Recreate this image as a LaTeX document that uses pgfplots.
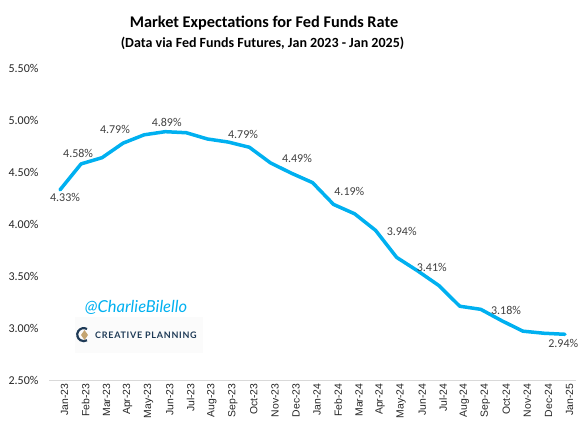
\documentclass[border=0pt]{standalone}
\usepackage{pgfplots}
\pgfplotsset{compat=1.18}
\usepackage{fontspec}
\setmainfont{Carlito}
\newfontfamily\arialfont{Liberation Sans}
\newfontfamily\markfont{Lato}
\newfontfamily\logofont[LetterSpace=8.0]{Lato}
\definecolor{lineblue}{RGB}{0,176,240}
\definecolor{labelgray}{RGB}{64,64,64}
\definecolor{axisgray}{RGB}{217,217,217}
\definecolor{navy}{RGB}{30,58,86}
\definecolor{gold}{RGB}{196,164,112}
\begin{document}
\begin{tikzpicture}[x=1pt,y=1pt]
\path[use as bounding box] (-49.5,-49) rectangle (534.5,380);
\begin{axis}[
  at={(0,0)}, anchor=south west,
  scale only axis, width=526pt, height=311.7pt,
  xmin=-0.5, xmax=24.5, ymin=2.5, ymax=5.5,
  clip=false,
  axis x line=bottom, axis y line=left,
  x axis line style={-, draw=axisgray, line width=0.8pt},
  y axis line style={draw=none},
  major tick length=0pt,
  xtick={0,...,24},
  xticklabels={Jan-23,Feb-23,Mar-23,Apr-23,May-23,Jun-23,Jul-23,Aug-23,Sep-23,Oct-23,Nov-23,Dec-23,Jan-24,Feb-24,Mar-24,Apr-24,May-24,Jun-24,Jul-24,Aug-24,Sep-24,Oct-24,Nov-24,Dec-24,Jan-25},
  xticklabel style={rotate=90, anchor=east, yshift=-4.5pt, font=\arialfont\fontsize{10.4}{12}\selectfont, text=black!85},
  ytick={2.5,3.0,3.5,4.0,4.5,5.0,5.5},
  yticklabels={2.50\%,3.00\%,3.50\%,4.00\%,4.50\%,5.00\%,5.50\%},
  yticklabel style={anchor=east, xshift=-7.5pt, font=\fontsize{12}{14}\selectfont, text=black!85},
]
\addplot[lineblue, line width=3.5pt, line join=round, line cap=round, mark=none] coordinates {
 (0,4.33)(1,4.58)(2,4.64)(3,4.78)(4,4.86)(5,4.89)(6,4.88)(7,4.82)(8,4.79)(9,4.74)(10,4.59)(11,4.49)
 (12,4.40)(13,4.19)(14,4.10)(15,3.94)(16,3.68)(17,3.55)(18,3.41)(19,3.21)(20,3.18)(21,3.07)(22,2.97)(23,2.95)(24,2.94)};
\begin{scope}[every node/.style={font=\fontsize{12}{14}\selectfont, text=labelgray, inner sep=0pt}]
\node at (axis cs:0.24,4.26) {4.33\%};
\node at (axis cs:0.86,4.68) {4.58\%};
\node at (axis cs:2.61,4.91) {4.79\%};
\node at (axis cs:5.07,4.98) {4.89\%};
\node at (axis cs:8.70,4.86) {4.79\%};
\node at (axis cs:11.26,4.63) {4.49\%};
\node at (axis cs:13.75,4.31) {4.19\%};
\node at (axis cs:16.24,3.93) {3.94\%};
\node at (axis cs:17.67,3.58) {3.41\%};
\node at (axis cs:21.20,3.17) {3.18\%};
\node at (axis cs:23.92,2.85) {2.94\%};
\end{scope}
\end{axis}
\node[font=\bfseries\fontsize{16.3}{19}\selectfont] at (214.5,357.3) {Market Expectations for Fed Funds Rate};
\node[font=\bfseries\fontsize{14}{17}\selectfont] at (213,336.7) {(Data via Fed Funds Futures, Jan 2023 - Jan 2025)};
\node[font=\markfont\itshape\fontsize{16.5}{19}\selectfont, text=lineblue] at (86.5,73) {@CharlieBilello};
\fill[black!1.5] (25.5,27) rectangle (153.5,63);
\draw[navy, line width=2.2pt] (37.5,51) arc (60:300:6.5);
\fill[gold] (35,50) -- (38.5,45) -- (35,40) -- (31.5,45) -- cycle;
\node[anchor=west, font=\logofont\bfseries\fontsize{9}{10}\selectfont, text=navy, inner sep=0pt] at (45.5,45) {CREATIVE PLANNING};
\end{tikzpicture}
\end{document}
